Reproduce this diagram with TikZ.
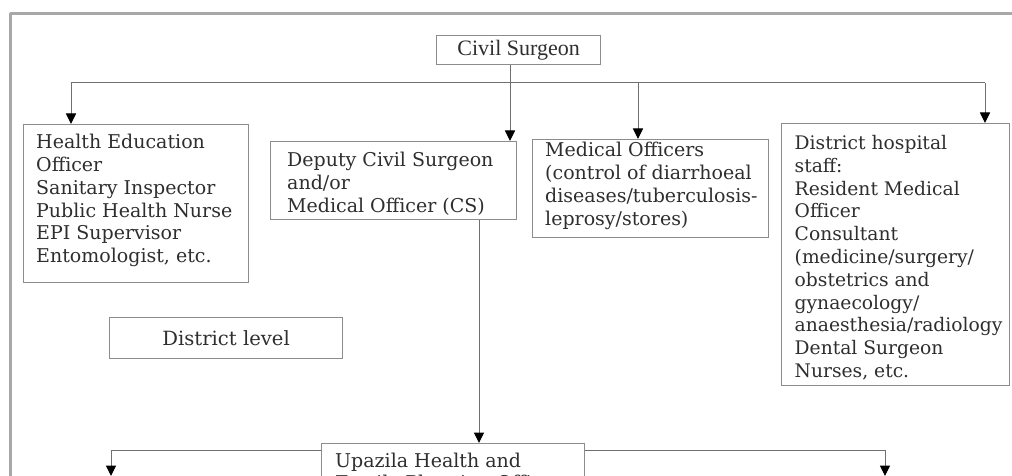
\documentclass[tikz,border=0pt]{standalone}
\usepackage{fontspec}
\setmainfont{DejaVu Serif}
\newfontfamily\timesfont{Liberation Serif}
\usetikzlibrary{arrows.meta,calc}

\definecolor{boxgray}{HTML}{8C8C8C}
\definecolor{linkgray}{HTML}{707070}
\definecolor{inkgray}{HTML}{2E2E2E}
\definecolor{framegray}{HTML}{A8A8A8}

\begin{document}
\begin{tikzpicture}[x=1pt,y=-1pt,
  box/.style={draw=boxgray, line width=1.2pt, inner sep=0pt, anchor=north west},
  staff/.style={inner sep=0pt, anchor=north west, align=left, text=inkgray,
                font=\fontsize{19}{22.8}\selectfont},
  link/.style={draw=linkgray, line width=1pt},
  feed/.style={link, -{Triangle[width=10pt,length=10.5pt,color=black,fill=black]}},
  frameline/.style={draw=framegray, line width=2.2pt},
]
\useasboundingbox (0,0) rectangle (1012,476);
\clip (0,0) rectangle (1012,476);

% page frame
\draw[frameline] (9.5,13.5) -- (1012,13.5);
\draw[frameline] (10.5,13) -- (10.5,476);

% boxes
\node[box, minimum width=164pt, minimum height=29pt, text=inkgray,
      font=\timesfont\fontsize{22}{26}\selectfont] (cs) at (436,35) {Civil Surgeon};
\node[box, minimum width=225pt, minimum height=158pt] (hes) at (23,124) {};
\node[box, minimum width=246pt, minimum height=78pt]  (dep) at (270,141) {};
\node[box, minimum width=236pt, minimum height=98pt]  (mo)  at (532,139) {};
\node[box, minimum width=228pt, minimum height=262pt] (hosp) at (781,123) {};
\node[box, minimum width=233pt, minimum height=41pt, text=inkgray,
      font=\fontsize{19.6}{23}\selectfont] (lvl) at (109,317) {District level};
\node[box, minimum width=263pt, minimum height=80pt]  (upz) at (321,443) {};

% box texts
\node[staff] (hes-t) at ($(hes.north west)+(13,10)$)
  {Health Education\\Officer\\Sanitary Inspector\\Public Health Nurse\\EPI Supervisor\\Entomologist, etc.};
\node[staff] (dep-t) at ($(dep.north west)+(17,11)$)
  {Deputy Civil Surgeon\\and/or\\Medical Officer (CS)};
\node[staff] (mo-t) at ($(mo.north west)+(13,3)$)
  {Medical Officers\\(control of diarrhoeal\\diseases/tuberculosis-\\leprosy/stores)};
\node[staff, font=\fontsize{18.7}{22.8}\selectfont] (hosp-t) at ($(hosp.north west)+(13.5,12)$)
  {District hospital\\staff:\\Resident Medical\\Officer\\Consultant\\(medicine/surgery/\\obstetrics and\\gynaecology/\\anaesthesia/radiology\\Dental Surgeon\\Nurses, etc.};
\node[staff] (upz-t) at ($(upz.north west)+(14,9.5)$)
  {Upazila Health and\\Family Planning Officer};

% junctions
\coordinate (jc) at (510,83);
\coordinate (jl) at (71,83);
\coordinate (jm) at (638,83);
\coordinate (jr) at (985,83);
\coordinate (jd) at (479,0);
\coordinate (ul) at (111,450);
\coordinate (ur) at (885,450);
\coordinate (ul-end) at (111,476);
\coordinate (ur-end) at (885,476);

% connectors from the Civil Surgeon
\draw[link] (cs.south -| jc) -- (jc);
\draw[link] (jl) -- (jr);
\draw[feed] (jl) -- (jl |- hes.north);
\draw[feed] (jc) -- (jc |- dep.north);
\draw[feed] (jm) -- (jm |- mo.north);
\draw[feed] (jr) -- (jr |- hosp.north);

% down to the upazila level
\draw[feed] (dep.south -| jd) -- (upz.north -| jd);
\draw[link] (upz.north west |- ul) -- (ul);
\draw[feed] (ul) -- (ul-end);
\draw[link] (upz.north east |- ur) -- (ur);
\draw[feed] (ur) -- (ur-end);
\end{tikzpicture}
\end{document}
